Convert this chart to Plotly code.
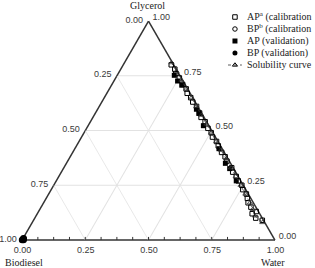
import plotly.graph_objects as go

# ---------------- data (mass fractions) ----------------
# AP^a calibration (open squares): glycerol, biodiesel
ap_cal_glycerol = [0.80, 0.78, 0.76, 0.74, 0.71, 0.69, 0.67, 0.65, 0.63, 0.61, 0.58, 0.56,
                   0.54, 0.51, 0.49, 0.47, 0.45, 0.43, 0.40, 0.38, 0.36, 0.33, 0.31, 0.29,
                   0.27, 0.25, 0.23, 0.21, 0.19, 0.17, 0.15, 0.13, 0.12, 0.10, 0.09]
ap_cal_biodiesel = [0.010, 0.006, 0.012, 0.008, 0.010, 0.006, 0.012, 0.008, 0.010, 0.005, 0.008, 0.012,
                    0.006, 0.010, 0.007, 0.012, 0.006, 0.009, 0.011, 0.007, 0.010, 0.006, 0.012, 0.008,
                    0.010, 0.006, 0.012, 0.008, 0.014, 0.021, 0.020, 0.009, 0.030, 0.026, 0.005]

# BP^b calibration (open circles)
bp_cal_glycerol = [0.000, 0.004, 0.006, 0.002]
bp_cal_biodiesel = [0.998, 0.994, 0.990, 0.994]

# AP validation (filled squares)
ap_val_glycerol = [0.752, 0.726, 0.707, 0.597, 0.578, 0.522, 0.417, 0.350, 0.326, 0.270]
ap_val_biodiesel = [0.022, 0.022, 0.015, 0.012, 0.012, 0.022, 0.013, 0.021, 0.016, 0.018]

# BP validation (filled circles)
bp_val_glycerol = [0.000, 0.006, 0.008, 0.003, 0.000]
bp_val_biodiesel = [1.000, 0.992, 0.990, 0.993, 0.994]

# Solubility curve
sol_glycerol = [0.81, 0.77, 0.73, 0.69, 0.65, 0.61, 0.57, 0.53, 0.49, 0.45,
                0.41, 0.37, 0.33, 0.29, 0.25, 0.21, 0.17, 0.14, 0.11, 0.08]
sol_biodiesel = [0.004, 0.004, 0.005, 0.005, 0.005, 0.006, 0.006, 0.006, 0.007, 0.007,
                 0.008, 0.008, 0.009, 0.010, 0.011, 0.012, 0.014, 0.018, 0.024, 0.010]

legend_names = ["AP<sup>a</sup> (calibration", "BP<sup>b</sup> (calibration",
                "AP (validation)", "BP (validation)", "Solubility curve"]
corner_titles = ["Glycerol", "Biodiesel", "Water"]

major_ticks = [0.0, 0.25, 0.5, 0.75, 1.0]
minor_ticks = [i / 16 for i in range(17)]
grid_vals = [0.25, 0.5, 0.75]

W, H = 315, 268


def water(g, b):
    return [max(0.0, 1 - x - y) for x, y in zip(g, b)]


def px(x, y):
    """pixel position -> paper fraction (margins are zero)"""
    return x / W, 1 - y / H


fig = go.Figure()

GRID = "#e2e2e2"
AXC = "#333333"
# grid lines of constant biodiesel
for v in grid_vals:
    fig.add_trace(go.Scatterternary(
        a=[1 - v, 0], b=[v, v], c=[0, 1 - v], mode="lines",
        line=dict(color=GRID, width=0.8), hoverinfo="skip", showlegend=False))

# small inside tick marks along the bottom (water) edge
tick_da = 0.014
for v in minor_ticks[1:-1]:
    fig.add_trace(go.Scatterternary(
        a=[0, tick_da], b=[v, v - tick_da / 2], c=[1 - v, 1 - v - tick_da / 2], mode="lines",
        line=dict(color=AXC, width=1), hoverinfo="skip", showlegend=False, cliponaxis=False))

common = dict(showlegend=False, cliponaxis=False)
fig.add_trace(go.Scatterternary(
    name=legend_names[0], a=ap_cal_glycerol, b=ap_cal_biodiesel,
    c=water(ap_cal_glycerol, ap_cal_biodiesel), mode="markers",
    marker=dict(symbol="square-open", size=4.5, color="black", line=dict(width=1)), **common))
fig.add_trace(go.Scatterternary(
    name=legend_names[1], a=bp_cal_glycerol, b=bp_cal_biodiesel,
    c=water(bp_cal_glycerol, bp_cal_biodiesel), mode="markers",
    marker=dict(symbol="circle-open", size=5, color="black", line=dict(width=1)), **common))
fig.add_trace(go.Scatterternary(
    name=legend_names[2], a=ap_val_glycerol, b=ap_val_biodiesel,
    c=water(ap_val_glycerol, ap_val_biodiesel), mode="markers",
    marker=dict(symbol="square", size=5, color="black"), **common))
fig.add_trace(go.Scatterternary(
    name=legend_names[3], a=bp_val_glycerol, b=bp_val_biodiesel,
    c=water(bp_val_glycerol, bp_val_biodiesel), mode="markers",
    marker=dict(symbol="circle", size=6.5, color="black"), **common))
fig.add_trace(go.Scatterternary(
    name=legend_names[4], a=sol_glycerol, b=sol_biodiesel,
    c=water(sol_glycerol, sol_biodiesel), mode="lines+markers",
    line=dict(color=AXC, width=0.8, dash="dot"),
    marker=dict(symbol="triangle-up-open", size=4.5, color=AXC, line=dict(width=0.8)),
    **common))

# ---------------- compact legend (hidden cartesian axes) ----------------
leg_syms = ["square-open", "circle-open", "square", "circle", "triangle-up-open"]
leg_sizes = [4.5, 4.5, 5, 5, 4.5]
for i, (sym, sz) in enumerate(zip(leg_syms, leg_sizes)):
    if i == 4:
        fig.add_trace(go.Scatter(
            x=[0.0, 0.16], y=[i, i], mode="lines", xaxis="x", yaxis="y",
            line=dict(color=AXC, width=0.8, dash="dot"),
            hoverinfo="skip", showlegend=False))
    fig.add_trace(go.Scatter(
        x=[0.08], y=[i], mode="markers", xaxis="x", yaxis="y",
        marker=dict(symbol=sym, size=sz, color="black", line=dict(width=1 if "open" in sym else 0)),
        hoverinfo="skip", showlegend=False))

leg_font = dict(family="Liberation Serif, Times New Roman, serif", size=10, color="#222222")
annotations = []
for i, name in enumerate(legend_names):
    annotations.append(dict(text=name, x=0.2, y=i, xref="x", yref="y", xanchor="left",
                            yanchor="middle", showarrow=False, font=leg_font))

title_font = dict(family="Liberation Serif, Times New Roman, serif", size=10, color="#222222")
for txt, (x, y), anc in zip(corner_titles, [(147, 6), (3, 262), (273, 262)],
                            ["center", "left", "center"]):
    fx, fy = px(x, y)
    annotations.append(dict(text=txt, x=fx, y=fy, xref="paper", yref="paper",
                            xanchor=anc, yanchor="middle", showarrow=False, font=title_font))

tick_font = dict(family="Liberation Sans, Arial, sans-serif", size=9, color="#3a3a3a")
axis_common = dict(linecolor=AXC, linewidth=1.5, tickfont=tick_font,
                   gridcolor=GRID, gridwidth=0.8, layer="below traces", title=dict(text=""),
                   ticks="outside", tickcolor="rgba(0,0,0,0)")

x0, y0 = px(22, 240)
x1, y1 = px(275, 21)
lx0, ly_bot = px(228, 71)
lx1, ly_top = px(315, 11)

fig.update_layout(
    width=W, height=H,
    margin=dict(l=0, r=0, t=0, b=0),
    paper_bgcolor="white",
    plot_bgcolor="rgba(0,0,0,0)",
    font=dict(family="Liberation Serif, serif", size=10, color="#222222"),
    ternary=dict(
        sum=1,
        bgcolor="white",
        domain=dict(x=[x0, x1], y=[y0, y1]),
        aaxis=dict(axis_common, tickmode="array", tickvals=major_ticks,
                   ticktext=[f"{1 - v:.2f}" for v in major_ticks],
                   ticklen=3, showgrid=True),
        baxis=dict(axis_common, tickmode="array", tickvals=major_ticks,
                   ticktext=[f"{1 - v:.2f}" for v in major_ticks],
                   ticklen=1, showgrid=False),
        caxis=dict(axis_common, tickmode="array", tickvals=major_ticks,
                   ticktext=[f"{1 - v:.2f}" for v in major_ticks],
                   ticklen=3, showgrid=True),
    ),
    xaxis=dict(domain=[lx0, lx1], range=[0, 1], visible=False, fixedrange=True),
    yaxis=dict(domain=[ly_bot, ly_top], range=[4.5, -0.5], visible=False, fixedrange=True),
    annotations=annotations,
    showlegend=False,
)

fig.write_html("out.html")
